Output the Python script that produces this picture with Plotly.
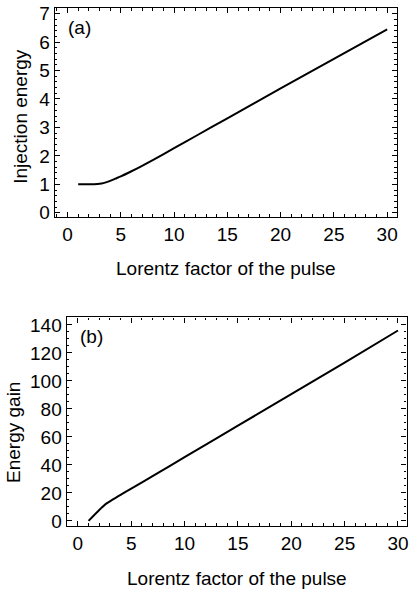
import plotly.graph_objects as go

# Panel (a): injection energy vs Lorentz factor
gamma_a = [1, 2, 2.8, 3.2, 3.6, 4, 4.5, 5, 6, 7, 8, 10, 12, 15, 20, 25, 30]
inj_energy = [1.0, 1.0, 1.01, 1.03, 1.07, 1.12, 1.2, 1.28, 1.46, 1.65, 1.85, 2.27, 2.69, 3.32, 4.37, 5.41, 6.45]

# Panel (b): energy gain vs Lorentz factor
gamma_b = [1, 2, 2.6, 3, 3.5, 4, 5, 7, 10, 15, 20, 25, 30]
energy_gain = [0, 7.8, 12.0, 14.0, 16.3, 18.6, 23, 32, 45.5, 68, 90.5, 113, 136]

font = "Liberation Sans, Arial, Helvetica, sans-serif"
FS = 19

fig = go.Figure()
fig.add_trace(go.Scatter(x=gamma_a, y=inj_energy, mode="lines",
                         line=dict(color="black", width=2, shape="spline", smoothing=0.6),
                         xaxis="x", yaxis="y", showlegend=False))
fig.add_trace(go.Scatter(x=gamma_b, y=energy_gain, mode="lines",
                         line=dict(color="black", width=2, shape="spline", smoothing=0.4),
                         xaxis="x2", yaxis="y2", showlegend=False))

axis_common = dict(showgrid=False, zeroline=False, showline=True, linecolor="black",
                   linewidth=1.3, mirror="ticks", ticks="inside", ticklen=5,
                   tickcolor="black", tickwidth=1, ticklabeloverflow="allow",
                   tickfont=dict(family=font, size=FS, color="black"))

fig.update_layout(
    width=409, height=600,
    margin=dict(l=0, r=0, t=0, b=0),
    paper_bgcolor="white", plot_bgcolor="white",
    xaxis=dict(domain=[0.1345, 0.9756], range=[-1.2, 30.93], anchor="y",
               tickvals=[0, 5, 10, 15, 20, 25, 30],
               minor=dict(ticks="inside", dtick=1, ticklen=2.5, tickcolor="black"),
               **axis_common),
    yaxis=dict(domain=[0.64, 0.9945], range=[-0.15, 7.19], anchor="x",
               tickvals=[0, 1, 2, 3, 4, 5, 6, 7],
               minor=dict(ticks="inside", dtick=0.2, ticklen=2.5, tickcolor="black"),
               **axis_common),
    xaxis2=dict(domain=[0.1638, 0.9988], range=[-1.05, 30.8], anchor="y2",
                tickvals=[0, 5, 10, 15, 20, 25, 30],
                minor=dict(ticks="inside", dtick=1, ticklen=2.5, tickcolor="black"),
                **axis_common),
    yaxis2=dict(domain=[0.1158, 0.4695], range=[-3.5, 145.3], anchor="x2",
                tickvals=[0, 20, 40, 60, 80, 100, 120, 140],
                minor=dict(ticks="inside", dtick=5, ticklen=2.5, tickcolor="black"),
                **axis_common),
    annotations=[
        dict(text="(a)", xref="paper", yref="paper", x=66/409, y=1-22.7/600,
             xanchor="left", yanchor="middle", showarrow=False,
             font=dict(family=font, size=FS, color="black")),
        dict(text="(b)", xref="paper", yref="paper", x=78/409, y=1-338/600,
             xanchor="left", yanchor="middle", showarrow=False,
             font=dict(family=font, size=FS, color="black")),
        dict(text="Injection energy", xref="paper", yref="paper", x=21/409, y=1-113/600,
             xanchor="center", yanchor="middle", textangle=-90, showarrow=False,
             font=dict(family=font, size=FS, color="black")),
        dict(text="Energy gain", xref="paper", yref="paper", x=13/409, y=1-435/600,
             xanchor="center", yanchor="middle", textangle=-90, showarrow=False,
             font=dict(family=font, size=FS, color="black")),
        dict(text="Lorentz factor of the pulse", xref="paper", yref="paper",
             x=227/409, y=1-268/600, xanchor="center", yanchor="middle", showarrow=False,
             font=dict(family=font, size=FS, color="black")),
        dict(text="Lorentz factor of the pulse", xref="paper", yref="paper",
             x=238/409, y=1-584/600, xanchor="center", yanchor="middle", showarrow=False,
             font=dict(family=font, size=FS, color="black")),
    ],
)

fig.write_html("out.html")
